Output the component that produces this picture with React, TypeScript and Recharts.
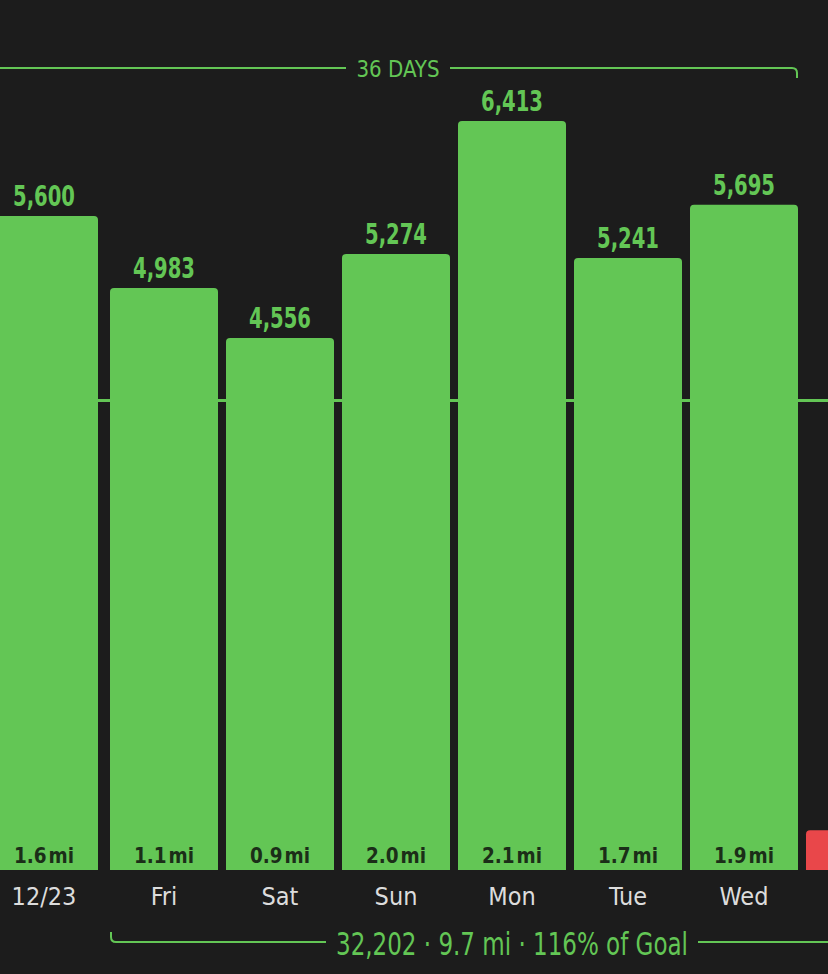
import React from 'react';
import { BarChart, Bar, XAxis, YAxis, ReferenceLine, LabelList, Cell, Rectangle } from 'recharts';

const days = ['12/23', 'Fri', 'Sat', 'Sun', 'Mon', 'Tue', 'Wed', 'Thu'];
const steps = [5600, 4983, 4556, 5274, 6413, 5241, 5695, 340];
const miles = ['1.6', '1.1', '0.9', '2.0', '2.1', '1.7', '1.9', ''];
const goal = 4020;

const GREEN = '#63c655';
const RED = '#e9474a';
const BG = '#1c1c1c';
const FONT = "'DejaVu Sans Condensed', 'Liberation Sans Narrow', 'Roboto', sans-serif";

const data = days.map((d, i) => ({ day: d, steps: steps[i], miles: miles[i] }));

// the first bar belongs to the previous week and sits a little further left
const shiftFor = (i: number) => (i === 0 ? -4 : 0);

const DayTick = (props: any) => {
  const { x, y, payload, index } = props;
  if (index === days.length - 1) return null;
  return (
    <text x={x + shiftFor(index)} y={y + 35} textAnchor="middle" fill="#dcdcdc" fontSize={25} fontWeight={500} fontFamily={FONT}>
      {payload.value}
    </text>
  );
};

const StepLabel = (props: any) => {
  const { x, y, width, value, index } = props;
  if (index === steps.length - 1) return null;
  return (
    <text x={x + width / 2 + shiftFor(index)} y={y - 10} textAnchor="middle" fill={GREEN} fontSize={29} fontWeight={700} fontFamily={FONT} textLength={62} lengthAdjust="spacingAndGlyphs">
      {value.toLocaleString('en-US')}
    </text>
  );
};

const MileLabel = (props: any) => {
  const { x, y, width, height, value, index } = props;
  if (!value) return null;
  return (
    <text x={x + width / 2 + shiftFor(index)} y={y + height - 7} textAnchor="middle" fill="#1b2e18" fontSize={22} fontWeight={700} fontFamily={FONT} textLength={60} lengthAdjust="spacingAndGlyphs">
      {value}
      <tspan dx={2}>mi</tspan>
    </text>
  );
};

const ShiftedBar = (props: any) => <Rectangle {...props} x={props.x + shiftFor(props.index)} />;

export default function App() {
  return (
    <div style={{ position: 'fixed', left: 0, top: 0, width: 828, height: 974, overflow: 'hidden', background: BG }}>
      <div style={{ position: 'absolute', left: -10, top: 0 }}>
        <BarChart width={928} height={974} data={data} margin={{ top: 0, right: 0, left: 0, bottom: 0 }} barSize={108}>
          <YAxis hide domain={[0, 7449]} />
          <XAxis dataKey="day" height={104} axisLine={false} tickLine={false} tickSize={0} tickMargin={0} interval={0} tick={<DayTick />} />
          <ReferenceLine y={goal} stroke={GREEN} strokeWidth={3} />
          <Bar dataKey="steps" fill={GREEN} radius={[4, 4, 0, 0]} shape={ShiftedBar} isAnimationActive={false}>
            {data.map((_, i) => (
              <Cell key={i} fill={i === data.length - 1 ? RED : GREEN} />
            ))}
            <LabelList dataKey="steps" content={<StepLabel />} />
            <LabelList dataKey="miles" content={<MileLabel />} />
          </Bar>
        </BarChart>
      </div>
      <svg width={828} height={974} style={{ position: 'absolute', left: 0, top: 0, pointerEvents: 'none' }}>
        <path d="M0 68 H346 M450 68 H792 Q797 68 797 73 V78" fill="none" stroke={GREEN} strokeWidth={2} />
        <text x={398} y={77} textAnchor="middle" fill={GREEN} fontSize={23} fontWeight={500} fontFamily={FONT} textLength={83} lengthAdjust="spacingAndGlyphs">
          36 DAYS
        </text>
        <path d="M111 932 V937 Q111 942 116 942 H326 M698 942 H828" fill="none" stroke={GREEN} strokeWidth={2} />
        <text x={512} y={955} textAnchor="middle" fill={GREEN} fontSize={32} fontWeight={400} fontFamily={FONT} textLength={352} lengthAdjust="spacingAndGlyphs">
          32,202 · 9.7 mi · 116% of Goal
        </text>
      </svg>
    </div>
  );
}
